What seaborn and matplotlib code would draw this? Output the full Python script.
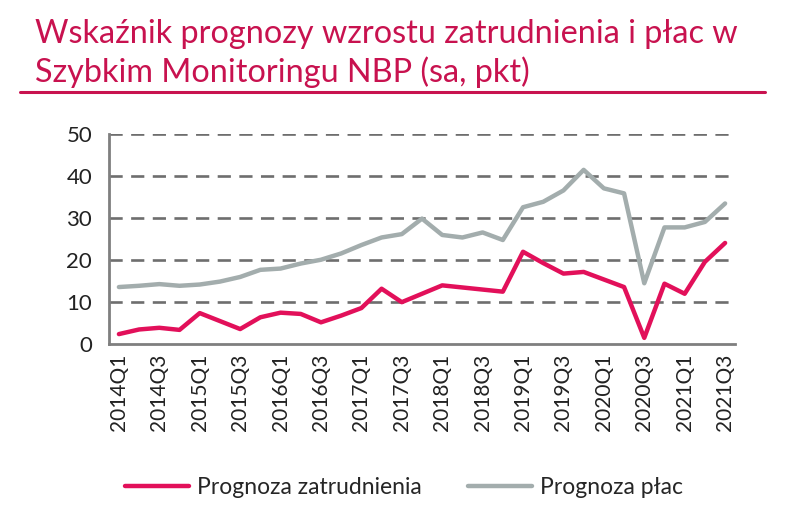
import matplotlib
matplotlib.use('Agg')
import matplotlib.pyplot as plt
import numpy as np
import pandas as pd
import seaborn as sns

### Data
quarters = [f'{y}Q{q}' for y in range(2014, 2022) for q in range(1, 5)][:31]

zatrudnienie = [2.4, 3.5, 3.9, 3.4, 7.4, 5.5, 3.6, 6.4,
                7.5, 7.2, 5.2, 6.8, 8.6, 13.2, 10.0, 12.0,
                14.0, 13.5, 13.0, 12.5, 22.0, 19.3, 16.8, 17.2,
                15.4, 13.6, 1.5, 14.4, 12.0, 19.6, 24.1]

place = [13.6, 13.9, 14.3, 13.9, 14.2, 14.9, 16.0, 17.7,
         18.0, 19.2, 20.1, 21.6, 23.6, 25.4, 26.2, 29.9,
         26.0, 25.4, 26.6, 24.8, 32.6, 33.9, 36.6, 41.5,
         37.1, 35.9, 14.5, 27.8, 27.8, 29.1, 33.5]

series_names = ['Prognoza zatrudnienia', 'Prognoza płac']
colors = ['#E2105A', '#A3ADAD']
title = 'Wskaźnik prognozy wzrostu zatrudnienia i płac w\nSzybkim Monitoringu NBP (sa, pkt)'
title_color = '#C8124F'

df = pd.DataFrame({
    'idx': list(range(len(quarters))) * 2,
    'value': zatrudnienie + place,
    'series': [series_names[0]] * len(quarters) + [series_names[1]] * len(quarters),
})

sns.set_theme(style='white')
plt.rcParams['font.family'] = ['Lato', 'DejaVu Sans']

fig = plt.figure(figsize=(8, 5.16), dpi=100)
ax = fig.add_axes([0.136, 0.333, 0.783, 0.407])

sns.lineplot(data=df, x='idx', y='value', hue='series', palette=colors,
             linewidth=3.2, ax=ax, legend=True)

# dashed grid
for v in [10, 20, 30, 40, 50]:
    ax.axhline(v, color='#6E6E6E', linewidth=1.9, linestyle=(0, (5, 3.2)), zorder=0)

ax.set_ylim(0, 50)
ax.set_xlim(-0.5, len(quarters) - 0.5)
ax.set_yticks([0, 10, 20, 30, 40, 50])
ax.set_xticks(range(0, len(quarters), 2))
ax.set_xticklabels(quarters[::2], rotation=90, fontsize=15, color='#222222')
ax.tick_params(axis='y', labelsize=16, colors='#222222', length=0, pad=12)
ax.tick_params(axis='x', length=0, pad=7)
ax.set_xlabel('')
ax.set_ylabel('')

for side in ['top', 'right']:
    ax.spines[side].set_visible(False)
for side in ['left', 'bottom']:
    ax.spines[side].set_color('#7F7F7F')
    ax.spines[side].set_linewidth(2)

handles, labels = ax.get_legend_handles_labels()
ax.get_legend().remove()
fig.legend(handles, labels, loc='lower center', bbox_to_anchor=(0.505, -0.005), ncol=2,
           frameon=False, fontsize=16.5, handlelength=2.8, columnspacing=2.0,
           handletextpad=0.35)

fig.text(0.044, 0.964, title, ha='left', va='top', fontsize=23.3, color=title_color,
         linespacing=1.3)
fig.add_artist(plt.Line2D([0.025, 0.956], [0.822, 0.822], color=title_color,
                          linewidth=2.2, transform=fig.transFigure))

fig.savefig('out.png', dpi=100)
